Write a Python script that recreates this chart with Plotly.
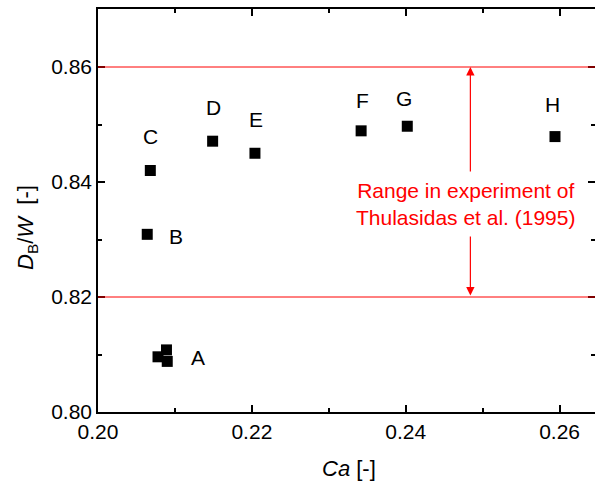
import plotly.graph_objects as go

# ---- data ----
case_labels = ["A", "A", "A", "B", "C", "D", "E", "F", "G", "H"]
ca_values = [0.2078, 0.2089, 0.2090, 0.2064, 0.2068, 0.2149, 0.2204, 0.2342, 0.2402, 0.2594]
db_w_values = [0.8096, 0.8108, 0.8088, 0.8309, 0.8420, 0.8471, 0.8450, 0.8489, 0.8497, 0.8479]
range_low = 0.82
range_high = 0.86
range_text = "Range in experiment of<br>Thulasidas et al. (1995)"
x_ticks = [0.20, 0.22, 0.24, 0.26]
y_ticks = [0.80, 0.82, 0.84, 0.86]

# label offsets (pixels) relative to the labelled point
label_points = {"A": 0, "B": 3, "C": 4, "D": 5, "E": 6, "F": 7, "G": 8, "H": 9}
label_shift = {"A": (40, -1), "B": (29, -2), "C": (0, 34), "D": (1, 34), "E": (1, 34),
               "F": (1, 30), "G": (-3, 28), "H": (-2, 32)}

FONT = "Liberation Sans, Arial, sans-serif"

fig = go.Figure()
fig.add_trace(go.Scatter(
    x=ca_values, y=db_w_values, mode="markers",
    marker=dict(symbol="square", size=11, color="black"),
    showlegend=False, hoverinfo="x+y"))
fig.add_trace(go.Scatter(x=[], y=[], yaxis="y2", showlegend=False))

# red range lines
for yv in (range_low, range_high):
    fig.add_shape(type="line", xref="paper", x0=0, x1=1, yref="y", y0=yv, y1=yv,
                  line=dict(color="#ff0000", width=1))

arrow_x = 0.2484
fig.add_annotation(x=arrow_x, y=range_high, ax=arrow_x, ay=range_low, axref="x", ayref="y",
                   xref="x", yref="y", text="", showarrow=True, arrowside="end+start",
                   arrowhead=2, arrowsize=1.4, arrowwidth=1.2, arrowcolor="#ff0000",
                   standoff=0, startstandoff=0)
fig.add_annotation(x=0.24779, y=0.8361, xref="x", yref="y",
                   text=range_text, showarrow=False, bgcolor="white", borderpad=7,
                   font=dict(family=FONT, size=21, color="#ff0000"), align="center")

for lab, idx in label_points.items():
    dx, dy = label_shift[lab]
    fig.add_annotation(x=ca_values[idx], y=db_w_values[idx], xref="x", yref="y",
                       text=lab, showarrow=False, xshift=dx, yshift=dy,
                       font=dict(family=FONT, size=21, color="black"))

# axis titles
fig.add_annotation(x=(349 - 98) / 497, y=(412 - 468) / 403, xref="paper", yref="paper",
                   text="<i>Ca</i> [-]", showarrow=False, xanchor="center", yanchor="middle",
                   font=dict(family=FONT, size=22, color="black"))
fig.add_annotation(x=(27 - 98) / 497, y=(412 - 228) / 403, xref="paper", yref="paper",
                   text="<i>D</i><sub>B</sub>/<i>W</i>&nbsp;&nbsp;[-]", showarrow=False, textangle=-90,
                   xanchor="center", yanchor="middle",
                   font=dict(family=FONT, size=22, color="black"))

axis_common = dict(ticks="inside", ticklen=7, tickwidth=1.5, tickcolor="black",
                   showgrid=False, zeroline=False,
                   tickfont=dict(family=FONT, size=21, color="black"))

fig.update_layout(
    width=595, height=490,
    margin=dict(l=98, r=0, t=9, b=78),
    paper_bgcolor="white", plot_bgcolor="white",
    xaxis=dict(range=[0.20, 0.2646], tickvals=x_ticks, tickformat=".2f",
               showline=True, linecolor="black", linewidth=1.5, mirror="ticks",
               minor=dict(dtick=0.01, tick0=0.20, ticks="inside", ticklen=4, tickwidth=1.5, tickcolor="black"),
               **axis_common),
    yaxis=dict(range=[0.80, 0.87009], tickvals=y_ticks, tickformat=".2f",
               showline=True, linecolor="black", linewidth=1.5, mirror=False,
               minor=dict(dtick=0.01, tick0=0.80, ticks="inside", ticklen=4, tickwidth=1.5, tickcolor="black"),
               **axis_common),
    yaxis2=dict(range=[0.80, 0.87009], overlaying="y", side="right", tickvals=y_ticks,
                showticklabels=False, showline=False, ticks="inside", ticklen=7, tickwidth=1.5,
                tickcolor="black", showgrid=False, zeroline=False,
                minor=dict(dtick=0.01, tick0=0.80, ticks="inside", ticklen=4, tickwidth=1.5, tickcolor="black")),
)

fig.write_html("out.html")
